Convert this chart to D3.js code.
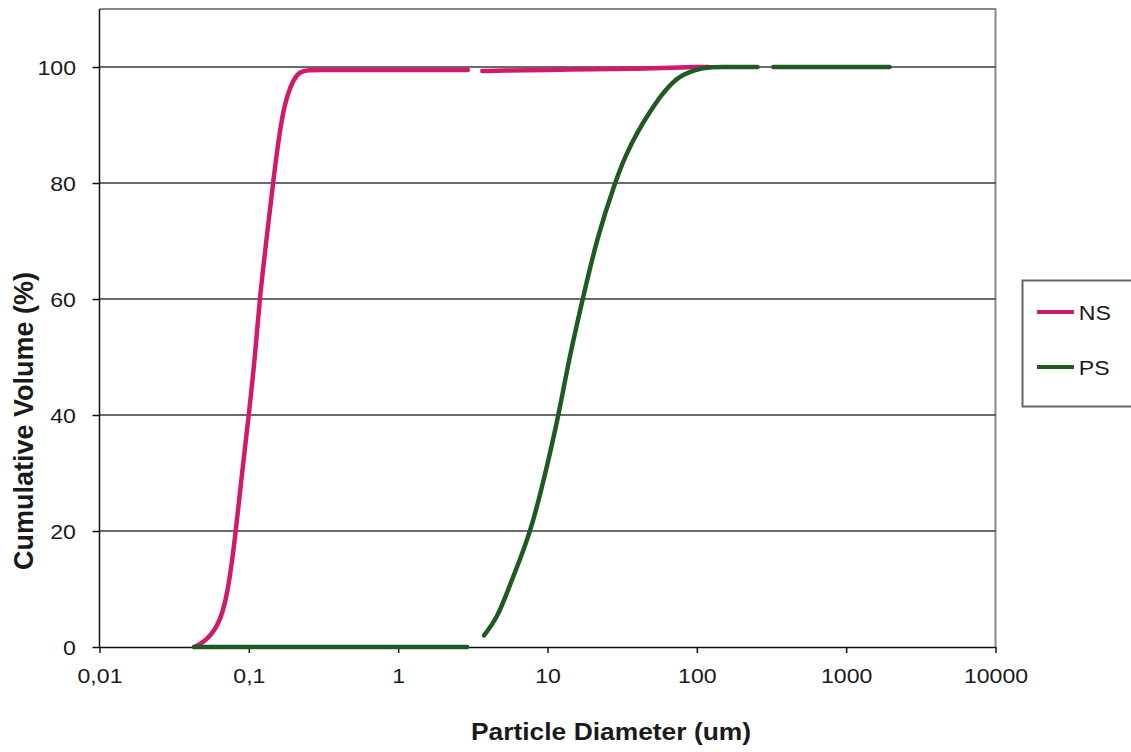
<!DOCTYPE html>
<html>
<head>
<meta charset="utf-8">
<script src="https://cdn.jsdelivr.net/npm/d3@7"></script>
<style>
  body { margin: 0; background: #fff; }
  text { font-family: "Liberation Sans", Arial, sans-serif; fill: #1a1a1a; }
</style>
</head>
<body>
<div id="chart"></div>
<script>
// data (null = gap in the line)
let nsDiameter = [0.043, 0.05, 0.062, 0.072, 0.082, 0.09, 0.1, 0.11, 0.118, 0.131, 0.145, 0.165, 0.18, 0.2, 0.22, 0.25, 0.3, 0.5, 1, 2, 2.93, 3.3, 3.66, 5, 10, 20, 40, 70, 100, 120];
let nsVolume   = [0, 0.8, 3.3, 8.6, 20, 30, 40, 50, 60, 70, 80, 91, 95, 98, 99.2, 99.5, 99.5, 99.5, 99.5, 99.5, 99.5, null, 99.3, 99.4, 99.5, 99.6, 99.7, 99.9, 100, 100];

let psDiameter = [0.043, 0.1, 1, 2.9, 3.3, 3.76, 4.6, 5.4, 6.5, 7.7, 9.3, 11.9, 13.8, 17.2, 21.4, 28.2, 33.4, 40, 48, 58.7, 69, 80, 100, 120, 150, 200, 255, 290, 325, 500, 1000, 1950];
let psVolume   = [0, 0, 0, 0, null, 2.0, 5.0, 9.6, 14.9, 20, 28, 40, 49.2, 60, 70.4, 80, 84.8, 88.8, 92.1, 95.4, 97.4, 98.7, 99.6, 100, 100, 100, 100, null, 100, 100, 100, 100];

let xTicks = [0.01, 0.1, 1, 10, 100, 1000, 10000];
let xTickLabels = ["0,01", "0,1", "1", "10", "100", "1000", "10000"];
let yTicks = [0, 20, 40, 60, 80, 100];

let seriesNames = ["NS", "PS"];
let seriesColors = ["#d11a6e", "#1f5a22"];

let margin = {top: 9, right: 135.5, bottom: 105, left: 99.5},
    width = 1131 - margin.left - margin.right,
    height = 752 - margin.top - margin.bottom;

let svg = d3.select("#chart")
  .append("svg")
    .attr("width", 1131)
    .attr("height", 752);

let chart = svg.append("g")
    .attr("transform", "translate(" + margin.left + "," + margin.top + ")");

let x = d3.scaleLog()
  .domain([0.01, 10000])
  .range([0, width]);

let y = d3.scaleLinear()
  .domain([0, 110])
  .range([height, 0]);

// top and right frame
chart.append("path")
  .attr("d", "M0,0H" + width + "V" + height)
  .attr("fill", "none")
  .attr("stroke", "#8a8a8a")
  .attr("stroke-width", 2);

// gridlines
chart.selectAll(".grid")
  .data(yTicks.filter(d => d > 0))
  .enter()
  .append("line")
    .attr("x1", 0)
    .attr("x2", width)
    .attr("y1", d => y(d))
    .attr("y2", d => y(d))
    .attr("stroke", "#3a3a3a")
    .attr("stroke-width", 1.5);

// X axis
let xAxis = d3.axisBottom(x)
  .tickValues(xTicks)
  .tickFormat((d, i) => xTickLabels[i])
  .tickSize(6)
  .tickSizeOuter(0);

let gx = chart.append("g")
  .attr("transform", "translate(0," + height + ")")
  .call(xAxis);
gx.select(".domain").attr("stroke", "#111").attr("stroke-width", 1.5);
gx.selectAll(".tick line").attr("stroke", "#111").attr("stroke-width", 1.5);
gx.selectAll("text")
  .attr("y", 36)
  .attr("dy", 0)
  .attr("font-size", 21)
  .attr("transform", "scale(1.1,1)")
  .style("fill", "#1a1a1a");

// Y axis
let yAxis = d3.axisLeft(y)
  .tickValues(yTicks)
  .tickSize(7)
  .tickSizeOuter(0);

let gy = chart.append("g")
  .call(yAxis);
gy.select(".domain").attr("stroke", "#111").attr("stroke-width", 1.5)
  .attr("d", "M0," + height + "V0");
gy.selectAll(".tick line").attr("stroke", "#111").attr("stroke-width", 1.5);
gy.selectAll("text")
  .attr("x", -21.4)
  .attr("dy", "0.36em")
  .attr("font-size", 21)
  .attr("transform", "scale(1.1,1)")
  .style("fill", "#1a1a1a");

// lines (basis smooths the hand-read points)
let line = d3.line()
  .defined(d => d[1] != null)
  .x(d => x(d[0]))
  .y(d => y(d[1]))
  .curve(d3.curveBasis);

let series = [
  d3.zip(nsDiameter, nsVolume),
  d3.zip(psDiameter, psVolume)
];

chart.selectAll(".series")
  .data(series)
  .enter()
  .append("path")
    .attr("d", line)
    .attr("fill", "none")
    .attr("stroke", (d, i) => seriesColors[i])
    .attr("stroke-width", 4.5)
    .attr("stroke-linecap", "round")
    .attr("stroke-linejoin", "round");

// axis titles
svg.append("text")
  .attr("transform", "translate(611,740) scale(1.1,1)")
  .attr("text-anchor", "middle")
  .attr("font-size", 24)
  .attr("font-weight", "bold")
  .text("Particle Diameter (um)");

svg.append("text")
  .attr("transform", "translate(33,421) rotate(-90)")
  .attr("text-anchor", "middle")
  .attr("font-size", 27)
  .attr("font-weight", "bold")
  .text("Cumulative Volume (%)");

// legend
let legend = svg.append("g");
legend.append("rect")
  .attr("x", 1022.5)
  .attr("y", 280.5)
  .attr("width", 112)
  .attr("height", 126)
  .attr("fill", "#fff")
  .attr("stroke", "#666")
  .attr("stroke-width", 2);

let items = legend.selectAll(".item")
  .data(seriesNames)
  .enter()
  .append("g")
    .attr("transform", (d, i) => "translate(1037," + (312 + i * 55) + ")");

items.append("line")
  .attr("x1", 0)
  .attr("x2", 37)
  .attr("stroke", (d, i) => seriesColors[i])
  .attr("stroke-width", 4);

items.append("text")
  .attr("x", 38)
  .attr("dy", "0.36em")
  .attr("font-size", 21)
  .attr("transform", "scale(1.1,1)")
  .text(d => d);
</script>
</body>
</html>
